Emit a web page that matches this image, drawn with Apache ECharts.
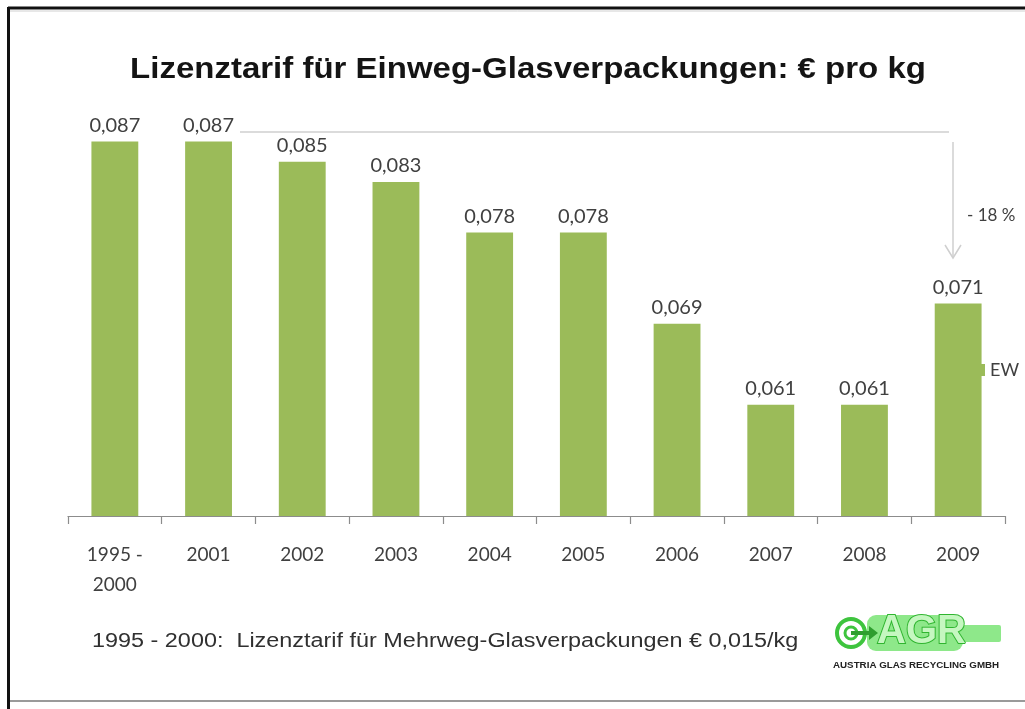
<!DOCTYPE html>
<html>
<head>
<meta charset="utf-8">
<script src="https://cdn.jsdelivr.net/npm/echarts@6/dist/echarts.min.js"></script>
<style>
html,body{margin:0;padding:0;background:#fff;}
#chart{width:1025px;height:709px;}
</style>
</head>
<body>
<div id="chart"></div>
<script>
const categories = ['1995 -\n2000','2001','2002','2003','2004','2005','2006','2007','2008','2009'];
const values = [0.087,0.087,0.085,0.083,0.078,0.078,0.069,0.061,0.061,0.071];
const seriesName = 'EW';
const titleText = 'Lizenztarif für Einweg-Glasverpackungen: € pro kg';
const footnote = '1995 - 2000:  Lizenztarif für Mehrweg-Glasverpackungen € 0,015/kg';
const changeText = '- 18 %';

const chart = echarts.init(document.getElementById('chart'), null, {renderer:'canvas'});
const labelColor = '#404040';
const option = {
  animation:false,
  backgroundColor:'#ffffff',
  legend:{
    data:[seriesName], left:973, top:356, icon:'rect', itemWidth:7, itemHeight:12, itemGap:4,
    textStyle:{fontFamily:'Lato', fontSize:18, color:labelColor}
  },
  grid:{left:68, right:20, top:111, bottom:193},
  xAxis:{
    type:'category', data:categories,
    axisLine:{lineStyle:{color:'#8c8c8c', width:1.2}},
    axisTick:{show:true, length:8, lineStyle:{color:'#8c8c8c', width:1.2}},
    axisLabel:{margin:24, fontFamily:'Lato', fontSize:19, color:labelColor, lineHeight:30, verticalAlign:'top'}
  },
  yAxis:{type:'value', min:0.05, max:0.09, show:false, splitLine:{show:false}},
  series:[{
    name:seriesName, type:'bar', data:values, barWidth:'50%',
    itemStyle:{color:'#9bbb59'},
    label:{show:true, position:'top', distance:6, fontFamily:'Lato', fontSize:20, color:labelColor,
      formatter:p=>p.value.toFixed(3).replace('.',',')}
  }],
  graphic:[
    // frame
    {type:'line', shape:{x1:8,y1:8,x2:1025,y2:8}, style:{stroke:'#111', lineWidth:3}},
    {type:'line', shape:{x1:8.5,y1:7,x2:8.5,y2:709}, style:{stroke:'#111', lineWidth:3}},
    {type:'line', shape:{x1:10,y1:11,x2:1025,y2:11}, style:{stroke:'#d0d0d0', lineWidth:1}},
    {type:'line', shape:{x1:10,y1:701,x2:1025,y2:701}, style:{stroke:'#9a9a9a', lineWidth:2}},
    // title
    {type:'text', x:528, y:70, scaleX:1.1, style:{text:titleText, textAlign:'center', textVerticalAlign:'middle',
      fontFamily:'Liberation Sans', fontWeight:'bold', fontSize:30, fill:'#141414'}},
    // annotation arrow
    {type:'polyline', shape:{points:[[240,132],[949,132]]}, style:{stroke:'#cfcfcf', lineWidth:1.5, fill:null}},
    {type:'polyline', shape:{points:[[953,142],[953,258]]}, style:{stroke:'#cfcfcf', lineWidth:1.5, fill:null}},
    {type:'polyline', shape:{points:[[945,245],[953,258],[961,245]]}, style:{stroke:'#cfcfcf', lineWidth:1.5, fill:null}},
    {type:'text', x:967, y:216, style:{text:changeText, textVerticalAlign:'middle', fontFamily:'Lato', fontSize:17, fill:labelColor}},
    // footnote
    {type:'text', x:92, y:641, scaleX:1.17, style:{text:footnote, textVerticalAlign:'middle', fontFamily:'Liberation Sans', fontSize:20, fill:'#303030'}},
    // logo
    {type:'group', x:833, y:612, children:[
      {type:'rect', shape:{x:34,y:3,width:96,height:36,r:9}, style:{fill:'#8ee88a'}},
      {type:'rect', shape:{x:124,y:13,width:44,height:17,r:2}, style:{fill:'#8ee88a'}},
      {type:'circle', shape:{cx:18,cy:21,r:14}, style:{fill:'#ffffff', stroke:'#3ec43e', lineWidth:4}},
      {type:'circle', shape:{cx:18,cy:21,r:6}, style:{fill:'#ffffff', stroke:'#3ec43e', lineWidth:3}},
      {type:'polygon', shape:{points:[[18,19],[36,19],[36,14],[45,21],[36,28],[36,23],[18,23]]}, style:{fill:'#2f9e2f'}},
      {type:'text', x:44, y:0, style:{text:'AGR', fontFamily:'Liberation Sans', fontWeight:'bold', fontSize:40, fill:'#c5f7c0', stroke:'#2fb52f', lineWidth:2}},
      {type:'text', x:0, y:49, scaleX:1.15, style:{text:'AUSTRIA GLAS RECYCLING GMBH', fontFamily:'Liberation Sans', fontWeight:'bold', fontSize:8.5, fill:'#222'}}
    ]}
  ]
};
chart.setOption(option);
</script>
</body>
</html>
